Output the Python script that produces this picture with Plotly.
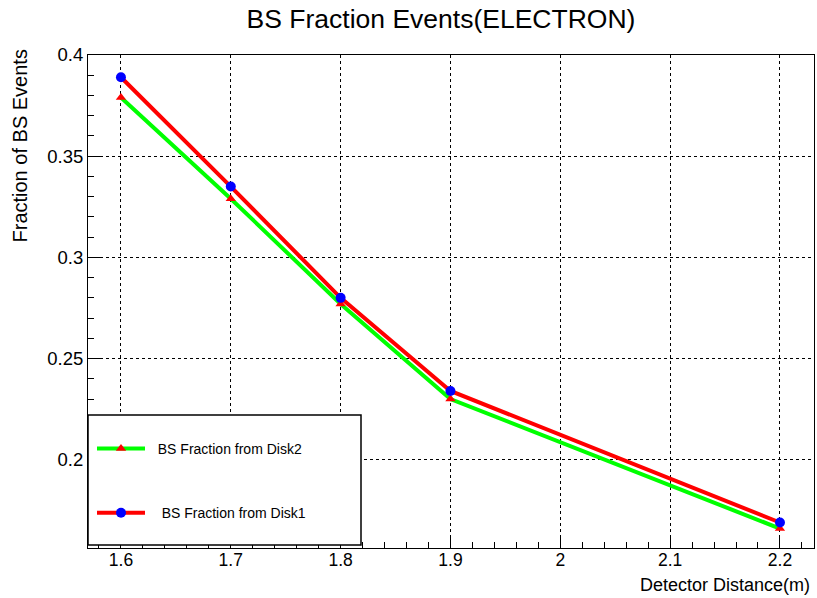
import plotly.graph_objects as go

distance = [1.6, 1.7, 1.8, 1.9, 2.2]
disk1 = [0.389, 0.335, 0.280, 0.234, 0.169]
disk2 = [0.379, 0.329, 0.277, 0.230, 0.166]

FONT = "Liberation Sans, Arial, sans-serif"

fig = go.Figure()
fig.add_trace(go.Scatter(
    x=distance, y=disk2, mode="lines+markers", name="  BS Fraction from Disk2",
    line=dict(color="#00ff00", width=4),
    marker=dict(symbol="triangle-up", color="red", size=9),
    legendgroup="d2"))
fig.add_trace(go.Scatter(
    x=distance, y=disk1, mode="lines+markers", name="   BS Fraction from Disk1",
    line=dict(color="red", width=4),
    marker=dict(symbol="circle", color="blue", size=10),
    legendgroup="d1"))

axis_common = dict(
    showline=True, linecolor="black", linewidth=1, mirror=True,
    ticks="inside", ticklen=12, tickcolor="black",
    showgrid=True, gridcolor="black", griddash="dot", gridwidth=1,
    zeroline=False,
)

fig.update_xaxes(range=[1.570, 2.231], dtick=0.1, tick0=1.6,
                 minor=dict(dtick=0.02, ticks="inside", ticklen=6, tickcolor="black", showgrid=False),
                 ticklabelstandoff=-4, tickfont=dict(family=FONT, size=17.5, color="black"),
                 **axis_common)
fig.update_yaxes(range=[0.1564, 0.4], dtick=0.05, tick0=0.2,
                 minor=dict(dtick=0.01, ticks="inside", ticklen=6, tickcolor="black", showgrid=False),
                 tickfont=dict(family=FONT, size=18.5, color="black"),
                 **axis_common)

plot_w = 726
plot_h = 493

fig.update_layout(
    width=817, height=598,
    margin=dict(l=88, r=3, t=55, b=50),
    plot_bgcolor="white", paper_bgcolor="white",
    title=dict(text="BS Fraction Events(ELECTRON)", x=441/817, xref="container",
               xanchor="center", y=1-19/598, yanchor="middle",
               font=dict(family=FONT, size=26.5, color="black")),
    showlegend=True,
    legend=dict(x=(92-88)/plot_w, y=(548-433)/plot_h, xanchor="left", yanchor="top",
                bgcolor="rgba(0,0,0,0)", borderwidth=0, itemwidth=48,
                font=dict(family=FONT, size=14, color="black"),
                tracegroupgap=43, traceorder="grouped"),
    shapes=[dict(type="rect", xref="paper", yref="paper",
                 x0=0, x1=(361-88)/plot_w, y0=(548-545)/plot_h, y1=(548-415)/plot_h,
                 line=dict(color="black", width=1.5), fillcolor="white", layer="above")],
    annotations=[
        dict(text="Detector Distance(m)", xref="paper", yref="paper",
             x=(812-88)/plot_w, y=(548-585)/plot_h, xanchor="right", yanchor="middle",
             showarrow=False, font=dict(family=FONT, size=18, color="black")),
        dict(text="Fraction of BS Events", xref="paper", yref="paper",
             x=(20-88)/plot_w, y=(548-48)/plot_h, xanchor="center", yanchor="top",
             textangle=-90, showarrow=False, font=dict(family=FONT, size=20, color="black")),
    ],
)

fig.write_html("out.html")
